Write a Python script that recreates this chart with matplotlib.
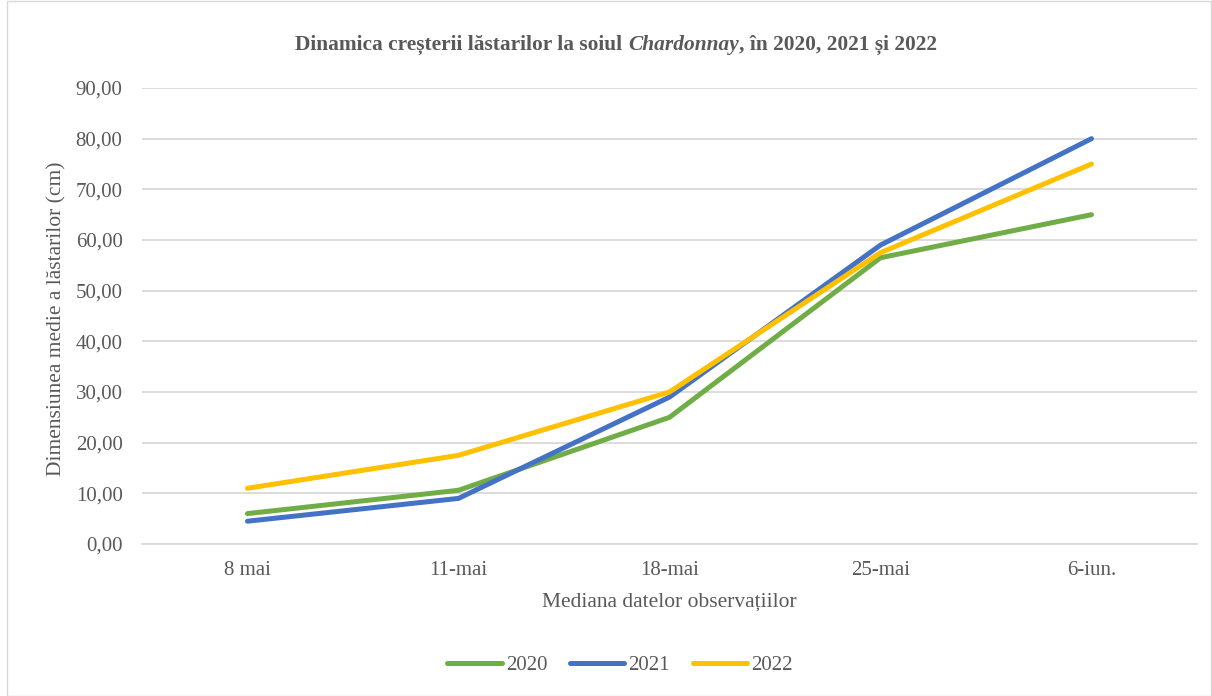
import matplotlib
matplotlib.use("Agg")
import matplotlib.pyplot as plt
from matplotlib.patches import Rectangle
from matplotlib.ticker import FuncFormatter

plt.rcParams['font.family'] = ['Liberation Serif', 'DejaVu Serif']

dates = ["8 mai", "11-mai", "18-mai", "25-mai", "6-iun."]
series_2020 = [6.0, 10.6, 25.0, 56.5, 65.0]
series_2021 = [4.5, 9.0, 29.0, 59.0, 80.0]
series_2022 = [11.0, 17.5, 30.0, 57.5, 75.0]
years = ["2020", "2021", "2022"]
colors = ["#70AD47", "#4472C4", "#FFC000"]

text_color = "#595959"
grid_color = "#D9D9D9"
W, H = 1212, 696

fig = plt.figure(figsize=(W / 100, H / 100), dpi=100)
ax = fig.add_axes([142 / W, 1 - 544 / H, (1197 - 142) / W, (544 - 88) / H])

x = list(range(len(dates)))
for vals, name, col in zip([series_2020, series_2021, series_2022], years, colors):
    ax.plot(x, vals, color=col, lw=3.6, solid_capstyle='round',
            solid_joinstyle='round', label=name)

ax.set_xlim(-0.5, len(dates) - 0.5)
ax.set_ylim(0, 90)
ax.set_yticks(range(0, 91, 10))
ax.yaxis.set_major_formatter(FuncFormatter(lambda v, p: f"{v:.2f}".replace('.', ',')))
ax.set_xticks(x)
ax.set_xticklabels(dates)
ax.grid(axis='y', color=grid_color, lw=1.3)
ax.set_axisbelow(True)
for s in ['top', 'right', 'left']:
    ax.spines[s].set_visible(False)
ax.spines['bottom'].set_color(grid_color)
ax.spines['bottom'].set_linewidth(1.3)
ax.tick_params(axis='both', length=0, labelsize=15, colors=text_color)
ax.tick_params(axis='y', pad=14)
ax.tick_params(axis='x', pad=12)

fig.text(57 / W, 1 - 319 / H, "Dimensiunea medie a lăstarilor (cm)", rotation=90,
         fontsize=15.5, color=text_color, ha='center', va='center')
fig.text(669 / W, 1 - 602 / H, "Mediana datelor observațiilor",
         fontsize=15.5, color=text_color, ha='center', va='center')

# Title with italic cultivar name, assembled from three pieces
parts = [("Dinamica creșterii lăstarilor la soiul ", 'normal'),
         ("Chardonnay", 'italic'),
         (", în 2020, 2021 și 2022", 'normal')]
fig.canvas.draw()
renderer = fig.canvas.get_renderer()
texts = []
for s, style in parts:
    t = fig.text(0, 1 - 45 / H, s, fontsize=15.4, fontweight='bold', style=style,
                 color=text_color, va='center', ha='left')
    texts.append(t)
widths = [t.get_window_extent(renderer).width for t in texts]
total = sum(widths)
x0 = 616 - total / 2
for t, w in zip(texts, widths):
    t.set_x(x0 / W)
    x0 += w

leg = fig.legend(loc='center', bbox_to_anchor=(620 / W, 1 - 665 / H), ncol=3,
                 frameon=False, fontsize=15, handlelength=2.6, columnspacing=1.1,
                 handletextpad=0.2)
for t in leg.get_texts():
    t.set_color(text_color)
for h in leg.legend_handles:
    h.set_solid_capstyle('round')

fig.patches.append(Rectangle((7 / W, 0.5 / H), 1 - 8 / W, 1 - 1.5 / H,
                             transform=fig.transFigure, fill=False,
                             edgecolor="#D9D9D9", lw=1.0))

fig.savefig("out.png", dpi=100)
